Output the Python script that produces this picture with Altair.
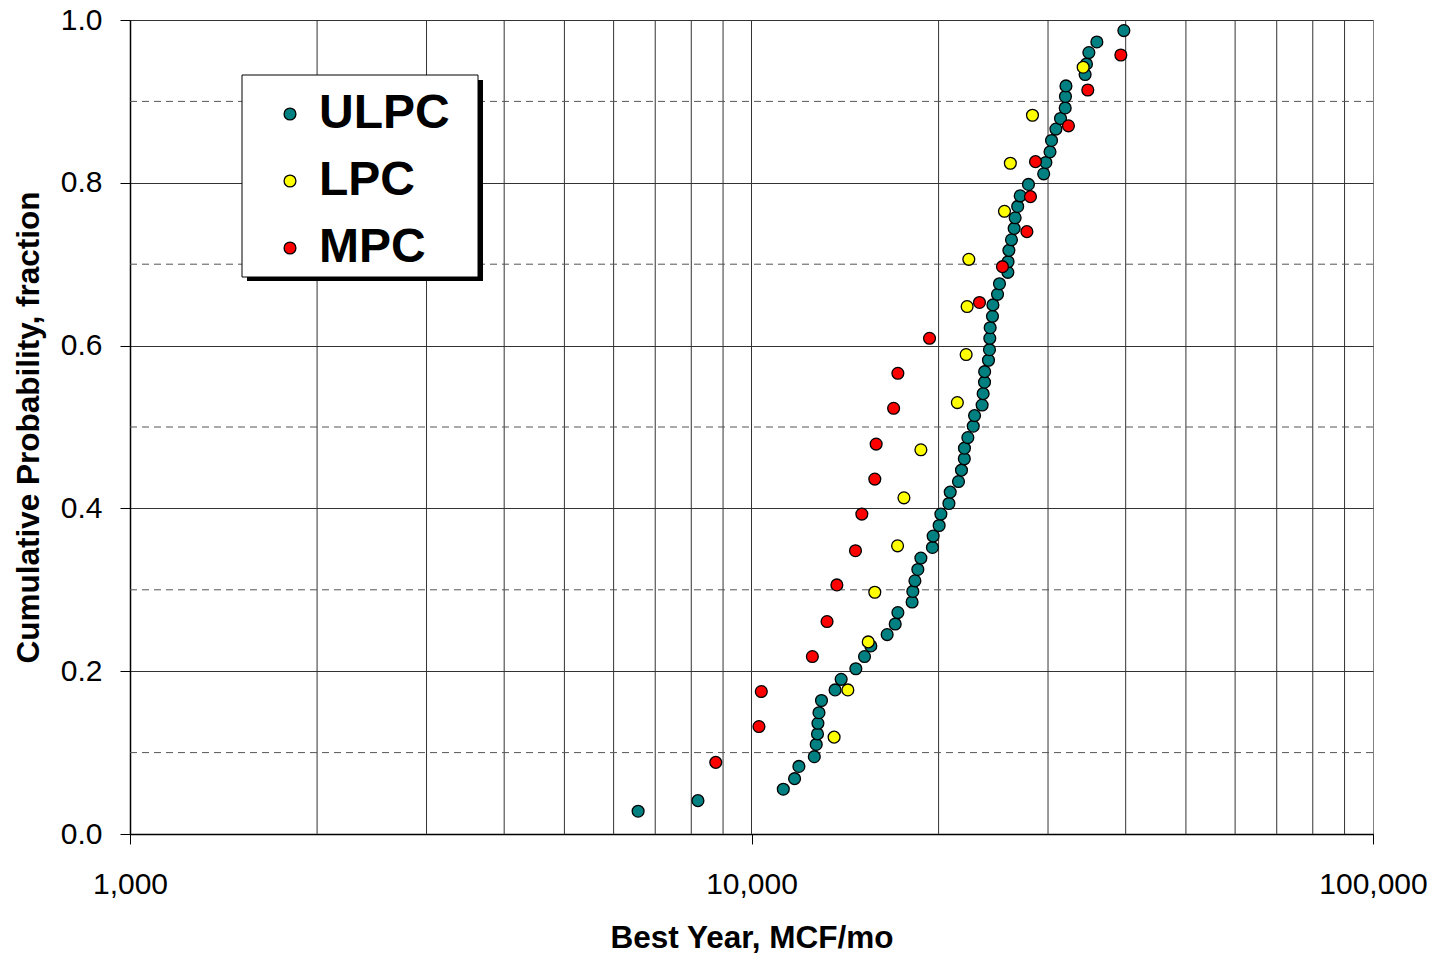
import altair as alt
import pandas as pd

# Best-year gas rate (MCF/mo) and cumulative probability for each completion type
ulpc_mcf = [6570, 8200, 11250, 11730, 11920, 12620, 12710, 12770, 12790, 12840,
            12960, 13630, 13940, 14720, 15200, 15560, 16530, 17030, 17200, 18130,
            18180, 18320, 18520, 18730, 19550, 19600, 20040, 20170, 20780, 20880,
            21530, 21770, 22000, 22010, 22290, 22740, 22850, 23500, 23590, 23710,
            23720, 24060, 24150, 24180, 24210, 24420, 24460, 24880, 25060, 25850,
            25870, 25950, 26200, 26460, 26560, 26810, 27060, 27900, 29520, 29760,
            30220, 30390, 30890, 31420, 31970, 32000, 32060, 34420, 34590, 34900,
            35950, 39730]
ulpc_prob = [0.028, 0.041, 0.055, 0.068, 0.083, 0.095, 0.110, 0.123, 0.136, 0.149,
             0.164, 0.177, 0.190, 0.203, 0.218, 0.231, 0.245, 0.258, 0.272, 0.285,
             0.298, 0.311, 0.325, 0.339, 0.352, 0.366, 0.379, 0.393, 0.406, 0.420,
             0.433, 0.447, 0.461, 0.474, 0.487, 0.501, 0.514, 0.527, 0.541, 0.555,
             0.568, 0.582, 0.595, 0.609, 0.622, 0.636, 0.650, 0.663, 0.676, 0.690,
             0.703, 0.717, 0.730, 0.744, 0.757, 0.771, 0.784, 0.798, 0.811, 0.825,
             0.838, 0.852, 0.866, 0.879, 0.892, 0.906, 0.919, 0.933, 0.946, 0.960,
             0.973, 0.987]

lpc_mcf = [13580, 14290, 15410, 15790, 17180, 17590, 18730, 21440, 22150, 22230,
           22370, 25530, 26090, 28320, 34170]
lpc_prob = [0.119, 0.177, 0.236, 0.297, 0.354, 0.413, 0.472, 0.530, 0.589, 0.648,
            0.706, 0.765, 0.824, 0.883, 0.942]

mpc_mcf = [8760, 10280, 10370, 12530, 13230, 13720, 14700, 15050, 15790, 15870,
           16930, 17200, 19340, 23270, 25340, 27740, 28110, 28640, 32360, 34760,
           39290]
mpc_prob = [0.088, 0.132, 0.175, 0.218, 0.261, 0.306, 0.348, 0.393, 0.436, 0.479,
            0.523, 0.566, 0.609, 0.653, 0.697, 0.740, 0.783, 0.826, 0.870, 0.914,
            0.957]

series_names = ["ULPC", "LPC", "MPC"]
series_colors = ["#008080", "#FFFF00", "#FF0000"]

x_labels = [1000, 10000, 100000]
x_minor_grid = [2000, 3000, 4000, 5000, 6000, 7000, 8000, 9000, 10000,
                20000, 30000, 40000, 50000, 60000, 70000, 80000, 90000]
y_major = [0.0, 0.2, 0.4, 0.6, 0.8, 1.0]
y_minor = [0.1, 0.3, 0.5, 0.7, 0.9]

points = pd.concat([
    pd.DataFrame({"mcf": ulpc_mcf, "prob": ulpc_prob, "type": "ULPC"}),
    pd.DataFrame({"mcf": lpc_mcf, "prob": lpc_prob, "type": "LPC"}),
    pd.DataFrame({"mcf": mpc_mcf, "prob": mpc_prob, "type": "MPC"}),
], ignore_index=True)
points["order"] = points["type"].map({n: i for i, n in enumerate(series_names)})

FONT = "Liberation Sans"
W, H = 1243, 814

x_scale = alt.Scale(type="log", domain=[1000, 100000], nice=False)
y_scale = alt.Scale(domain=[0, 1], nice=False, zero=True)

x_axis = alt.Axis(
    values=x_labels, format=",", grid=False, tickSize=10, tickColor="black",
    domainColor="black", domainWidth=1.5, labelFont=FONT, labelFontSize=30,
    labelColor="black", labelBaseline="alphabetic", labelPadding=49,
    labelFlush=False,
    title="Best Year, MCF/mo", titleFont=FONT, titleFontSize=31.5,
    titleFontWeight="bold", titleColor="black", titleBaseline="alphabetic",
    titleY=113,
)
y_axis = alt.Axis(
    values=y_major, format=".1f", grid=True, gridColor="#333333", gridWidth=1,
    tickSize=10, tickColor="black", domainColor="black", domainWidth=1.5,
    labelFont=FONT, labelFontSize=30, labelColor="black", labelPadding=18,
    labelFlush=False,
    title="Cumulative Probability, fraction", titleFont=FONT, titleFontSize=31.5,
    titleFontWeight="bold", titleColor="black", titleBaseline="alphabetic",
    titleX=-92,
)

# vertical grid at every 2..9 multiple of each decade
vgrid = alt.Chart(pd.DataFrame({"v": x_minor_grid})).mark_rule(
    color="#333333", strokeWidth=1
).encode(x=alt.X("v:Q", scale=x_scale, axis=x_axis))

# dashed grid at the odd tenths
hdash = alt.Chart(pd.DataFrame({"p": y_minor})).mark_rule(
    color="#555555", strokeWidth=1, strokeDash=[7, 5]
).encode(y=alt.Y("p:Q", scale=y_scale, axis=y_axis))

# legend box with drop shadow
one = pd.DataFrame({"k": [0]})
shadow = alt.Chart(one).mark_rect(color="black").encode(
    x=alt.value(117), x2=alt.value(353), y=alt.value(60), y2=alt.value(261)
)
box = alt.Chart(one).mark_rect(fill="white", stroke="black", strokeWidth=1).encode(
    x=alt.value(112), x2=alt.value(348), y=alt.value(55), y2=alt.value(257)
)

dots = alt.Chart(points).mark_circle(
    size=140, opacity=1, stroke="black", strokeWidth=1.3
).encode(
    x=alt.X("mcf:Q", scale=x_scale, axis=x_axis),
    y=alt.Y("prob:Q", scale=y_scale, axis=y_axis),
    color=alt.Color(
        "type:N",
        scale=alt.Scale(domain=series_names, range=series_colors),
        legend=alt.Legend(
            orient="none", legendX=136, legendY=70, title=None,
            labelFont=FONT, labelFontSize=48, labelFontWeight="bold",
            labelColor="black", symbolType="circle", symbolSize=140,
            symbolStrokeColor="black", symbolStrokeWidth=1.3,
            rowPadding=19, labelOffset=5, padding=0,
        ),
    ),
    order=alt.Order("order:Q"),
)

chart = alt.layer(vgrid, hdash, shadow, box, dots).properties(
    width=W, height=H,
    autosize=alt.AutoSizeParams(type="none"),
    padding={"left": 130, "top": 20, "right": 1437 - 130 - W, "bottom": 958 - 20 - H},
    background="white",
).configure_view(stroke="#808080", strokeWidth=1)

chart.save("out.html", embed_options={"renderer": "svg", "actions": False})
